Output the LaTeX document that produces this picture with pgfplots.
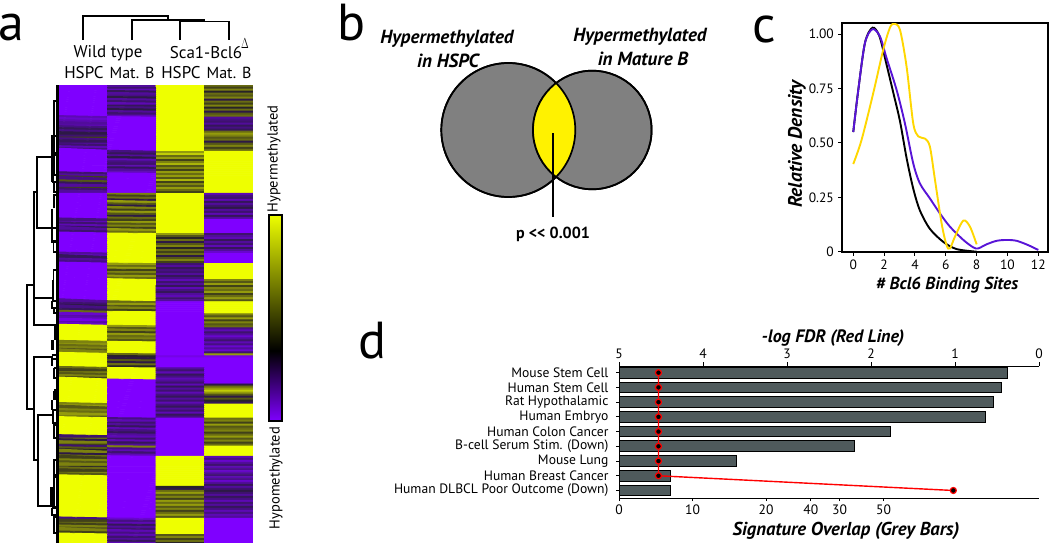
\documentclass[border=0pt]{standalone}
\usepackage{fontspec}
\setmainfont{PT Sans}
\usepackage{pgfplots}
\pgfplotsset{compat=1.18}
\definecolor{hmy}{RGB}{238,255,0}
\definecolor{hmp}{RGB}{127,0,255}
\definecolor{barg}{RGB}{79,90,92}
\definecolor{cpur}{RGB}{88,20,215}
\definecolor{cyel}{RGB}{255,215,0}
\newcommand{\fs}[1]{\fontsize{#1}{#1}\selectfont}
\begin{document}
\begin{tikzpicture}
\path[use as bounding box] (0,0) rectangle (1050pt,544pt);
% heat map
\begin{axis}[at={(59pt,1.5pt)},anchor=south west,scale only axis,width=194pt,height=457.5pt,hide axis,
 xmin=-0.5,xmax=3.5,ymin=-0.5,ymax=227.5,y dir=reverse,clip=true,
 colormap={hm}{rgb255(0pt)=(127,0,255) rgb255(5pt)=(70,15,130) rgb255(8pt)=(45,25,70) rgb255(9pt)=(40,35,40) rgb255(10pt)=(65,65,25) rgb255(13pt)=(125,130,15) rgb255(18pt)=(238,255,0)},
 point meta min=-9,point meta max=9]
\addplot[matrix plot*,mesh/cols=4,point meta=explicit,shader=faceted,faceted color=mapped color,line width=0.9pt] table[row sep=\\,header=false,x expr={mod(\coordindex,4)},y expr={floor(\coordindex/4)},meta index=0]{
-9\\-5\\9\\3\\
-9\\-3\\9\\1\\
-9\\-6\\9\\4\\
-9\\-2\\9\\0\\
-9\\-5\\9\\3\\
-9\\-4\\9\\2\\
-9\\-1\\9\\4\\
-9\\-5\\9\\-1\\
-9\\-3\\9\\3\\
-9\\-6\\9\\1\\
-9\\-2\\9\\4\\
-9\\-4\\9\\0\\
-9\\-1\\9\\3\\
-9\\-5\\9\\-1\\
-9\\-3\\9\\2\\
-9\\-6\\9\\3\\
-6\\-9\\9\\-5\\
-7\\-9\\9\\-4\\
-6\\-9\\9\\-3\\
-5\\-9\\9\\-5\\
-6\\-9\\9\\-2\\
-4\\-9\\9\\-4\\
-2\\-9\\9\\-2\\
-4\\-9\\9\\3\\
-1\\-9\\9\\5\\
-3\\-9\\9\\4\\
1\\-9\\9\\2\\
-4\\-9\\9\\3\\
-2\\-9\\9\\-1\\
-5\\-9\\9\\2\\
-3\\-9\\9\\4\\
-6\\-9\\9\\1\\
-4\\-9\\9\\3\\
-9\\-4\\5\\9\\
-9\\-2\\7\\9\\
-9\\-5\\3\\9\\
-9\\-1\\5\\9\\
-9\\-6\\1\\9\\
-9\\-4\\4\\9\\
-9\\-3\\6\\9\\
-9\\-6\\2\\9\\
-9\\-2\\4\\9\\
-9\\-5\\1\\9\\
-9\\-6\\5\\9\\
-3\\-9\\3\\9\\
-5\\-9\\5\\9\\
1\\-9\\2\\9\\
-4\\-9\\6\\9\\
2\\-9\\1\\9\\
-2\\-9\\4\\9\\
-5\\-9\\2\\9\\
1\\-9\\5\\9\\
-3\\-9\\3\\9\\
-5\\-9\\1\\9\\
-9\\4\\9\\-6\\
-9\\1\\9\\-4\\
-9\\3\\9\\-3\\
-9\\-1\\9\\-6\\
-9\\5\\9\\-2\\
-9\\2\\9\\-5\\
-9\\-1\\9\\-3\\
-9\\4\\9\\-1\\
-9\\1\\9\\-5\\
-9\\5\\9\\-3\\
-9\\2\\9\\-6\\
-9\\-1\\9\\-2\\
-9\\3\\9\\-5\\
-4\\1\\9\\-9\\
-6\\5\\9\\-9\\
-3\\2\\9\\-9\\
-6\\4\\9\\-9\\
-2\\1\\9\\-9\\
-5\\5\\9\\-9\\
-3\\3\\9\\-9\\
-9\\9\\5\\-3\\
-9\\9\\2\\-5\\
-9\\9\\0\\-6\\
-9\\9\\3\\-2\\
-9\\9\\-1\\-5\\
-9\\9\\2\\-3\\
-9\\9\\4\\-6\\
-9\\9\\0\\-2\\
-9\\9\\3\\-5\\
-9\\9\\1\\-7\\
-5\\9\\3\\-9\\
-6\\9\\-1\\-9\\
-2\\9\\2\\-9\\
-5\\9\\4\\-9\\
-4\\9\\1\\-9\\
-9\\5\\-3\\9\\
-9\\3\\-5\\9\\
-9\\5\\-2\\9\\
-9\\1\\-4\\9\\
-9\\4\\-3\\9\\
-9\\2\\-5\\9\\
-9\\5\\-2\\9\\
-9\\3\\-4\\9\\
-9\\9\\-6\\4\\
-9\\9\\-3\\2\\
-9\\9\\-5\\5\\
-9\\9\\-2\\1\\
-9\\9\\-6\\4\\
-9\\9\\-4\\3\\
-9\\9\\-2\\5\\
-9\\9\\-5\\1\\
-9\\9\\-6\\3\\
-9\\9\\-3\\5\\
-9\\9\\-5\\2\\
-5\\3\\-9\\9\\
-3\\5\\-9\\9\\
-1\\2\\-9\\9\\
-4\\4\\-9\\9\\
-2\\1\\-9\\9\\
3\\9\\-9\\9\\
-7\\9\\-9\\4\\
-5\\9\\-9\\2\\
-6\\9\\-9\\5\\
-8\\9\\-9\\1\\
-5\\9\\-9\\4\\
-7\\9\\-9\\2\\
9\\5\\-9\\3\\
9\\2\\-9\\-4\\
9\\4\\-9\\-6\\
9\\1\\-9\\-3\\
9\\5\\-9\\-5\\
9\\3\\-9\\-7\\
9\\4\\-9\\-5\\
9\\2\\-9\\-3\\
4\\9\\-9\\-6\\
5\\9\\-9\\-4\\
3\\9\\-9\\-7\\
4\\9\\-9\\-5\\
2\\9\\-9\\-7\\
4\\9\\-9\\-3\\
9\\3\\-9\\5\\
9\\0\\-8\\-8\\
9\\-1\\-9\\-9\\
9\\2\\-9\\-9\\
9\\-1\\-9\\-9\\
9\\3\\-9\\-9\\
9\\0\\-9\\-9\\
3\\9\\-5\\-9\\
1\\9\\-3\\-9\\
4\\9\\-6\\-9\\
2\\9\\-2\\-9\\
4\\9\\-4\\-9\\
1\\9\\-6\\-9\\
9\\-9\\-5\\-9\\
9\\-9\\-3\\-9\\
9\\-9\\-6\\-1\\
9\\-9\\-2\\3\\
9\\-9\\-5\\5\\
9\\-9\\-3\\7\\
9\\-9\\-6\\5\\
9\\-9\\-4\\2\\
9\\-9\\-2\\-1\\
9\\-9\\-5\\2\\
9\\-9\\-3\\0\\
9\\-9\\-6\\-2\\
4\\-9\\-4\\9\\
5\\-9\\-2\\9\\
2\\-9\\-5\\9\\
4\\-9\\-3\\9\\
3\\-9\\-6\\9\\
5\\-9\\-2\\9\\
2\\-9\\-4\\9\\
9\\-4\\-9\\3\\
9\\-6\\-9\\4\\
9\\-3\\-9\\1\\
9\\-5\\-9\\5\\
9\\-2\\-9\\2\\
9\\-6\\-9\\3\\
9\\-4\\-9\\4\\
9\\-2\\-9\\1\\
9\\-5\\-9\\3\\
-3\\-6\\-9\\5\\
3\\-3\\-9\\2\\
-1\\-6\\-9\\4\\
4\\-2\\-9\\1\\
1\\-5\\-9\\3\\
-3\\4\\-9\\9\\
2\\-4\\-9\\9\\
0\\-6\\-9\\9\\
4\\-3\\-9\\9\\
-1\\-6\\-9\\9\\
3\\-9\\9\\-6\\
1\\-9\\9\\-4\\
4\\-9\\9\\-7\\
2\\-9\\9\\-5\\
4\\-9\\9\\-3\\
0\\-9\\9\\-6\\
3\\-9\\9\\-4\\
1\\-9\\9\\-7\\
4\\-9\\9\\-5\\
2\\-9\\9\\-3\\
9\\-9\\9\\-6\\
9\\-9\\9\\-4\\
9\\-9\\9\\-7\\
9\\-9\\9\\-5\\
9\\-9\\9\\-2\\
9\\-9\\0\\-5\\
9\\-9\\-1\\-3\\
9\\-9\\3\\-1\\
9\\-9\\5\\-3\\
9\\-9\\2\\-5\\
9\\-9\\4\\-2\\
9\\-9\\1\\-4\\
9\\-9\\5\\-6\\
9\\-9\\3\\-3\\
9\\-9\\5\\-5\\
9\\-9\\2\\-2\\
9\\-9\\4\\-4\\
9\\-9\\1\\-6\\
9\\-9\\3\\-4\\
9\\-9\\5\\-6\\
9\\-9\\2\\-5\\
-4\\-7\\9\\-9\\
1\\-4\\9\\-9\\
3\\-6\\9\\-9\\
1\\-2\\9\\-9\\
4\\-5\\9\\-9\\
2\\-3\\9\\-9\\
4\\-6\\9\\-9\\
1\\-4\\9\\-9\\
9\\-6\\2\\-9\\
9\\-3\\4\\-9\\
9\\-5\\1\\-9\\
9\\-2\\3\\-9\\
9\\-6\\0\\-9\\
9\\-4\\3\\-9\\
9\\-6\\1\\-9\\
9\\-4\\-1\\-9\\
};
\end{axis}
% panel c
\begin{axis}[at={(842.3pt,292.3pt)},anchor=south west,scale only axis,width=205.4pt,height=228.4pt,
 xmin=-0.71,xmax=12.61,ymin=0,ymax=1.05,
 xtick={0,2,4,6,8,10,12},ytick={0,0.25,0.5,0.75,1},yticklabels={0,0.25,0.50,0.75,1.00},
 tick align=outside,major tick length=4pt,tick style={black,line width=1pt},xtick pos=bottom,ytick pos=left,
 axis line style={line width=2pt},
 tick label style={font=\fs{13.5}},
 /pgf/number format/assume math mode=true,
 xticklabel style={yshift=-1pt},yticklabel style={xshift=-1pt}]
\addplot[black,line width=1.9pt,smooth] coordinates {(0,.55)(.32,.74)(.76,.96)(1.25,1.03)(1.7,.99)(2.16,.86)(2.6,.73)(3.03,.60)(3.46,.43)(3.89,.29)(4.32,.19)(4.97,.105)(5.84,.045)(6.7,.012)(8,0)};
\addplot[cpur,line width=1.9pt,smooth] coordinates {(0,.55)(.32,.74)(.76,.96)(1.25,1.023)(1.73,.99)(2.16,.89)(2.81,.744)(3.35,.59)(3.89,.406)(4.32,.314)(4.97,.245)(5.62,.176)(6.27,.115)(7.14,.054)(7.78,.02)(8.1,.015)(8.65,.034)(9.3,.05)(9.95,.054)(10.6,.05)(11.35,.03)(12,.008)};
\addplot[cyel,line width=1.9pt,smooth] coordinates {(0,.403)(.54,.514)(1.3,.73)(1.95,.93)(2.38,1.03)(2.66,1.048)(3.03,1.02)(3.46,.85)(3.89,.59)(4.22,.53)(4.65,.52)(4.97,.483)(5.3,.33)(5.73,.13)(6.05,.03)(6.27,.015)(6.6,.07)(7.14,.143)(7.57,.115)(8,.034)};
\end{axis}
% panel d bars
\begin{axis}[at={(619pt,46pt)},anchor=south west,scale only axis,width=420pt,height=131.5pt,
 xmin=0,xmax=57.14,ymin=-8.51,ymax=0.42,
 axis x line*=bottom,axis y line*=left,axis line style={-,line width=1pt},
 xtick={0,10,20,26.1,30,36},xticklabels={0,10,20,40,30,50},
 ytick={0,-1,-2,-3,-4,-5,-6,-7,-8},
 yticklabels={Mouse Stem Cell,Human Stem Cell,Rat Hypothalamic,Human Embryo,Human Colon Cancer,B-cell Serum Stim. (Down),Mouse Lung,Human Breast Cancer,Human DLBCL Poor Outcome (Down)},
 tick align=outside,major tick length=3pt,tick style={black,line width=1pt},
 tick label style={font=\fs{13.6}},
 /pgf/number format/assume math mode=true,
 yticklabel style={xshift=-4pt}]
\addplot[xbar,bar width=10.7pt,fill=barg,draw=black,line width=1pt] coordinates {(52.9,0)(52,-1)(51,-2)(49.9,-3)(36.9,-4)(32,-5)(16,-6)(7,-7)(7,-8)};
\end{axis}
% panel d red line
\begin{axis}[at={(619pt,46pt)},anchor=south west,scale only axis,width=420pt,height=131.5pt,
 xmin=0,xmax=5,x dir=reverse,ymin=-8.51,ymax=0.42,
 axis x line*=top,axis y line=none,axis line style={-,line width=1.8pt},
 xtick={0,1,2,3,4,5},tick align=outside,major tick length=4pt,tick style={black,line width=1pt},
 tick label style={font=\fs{13.6}},
 /pgf/number format/assume math mode=true,clip=false]
\addplot[red,line width=1.4pt,mark=*,mark size=3pt,mark options={fill=black,draw=red,line width=1.2pt}] coordinates {(4.53,0)(4.53,-1)(4.53,-2)(4.53,-3)(4.53,-4)(4.53,-5)(4.53,-6)(4.53,-7)(1.02,-8)};
\end{axis}
% venn
\begin{scope}[x=1pt,y=-1pt,yshift=544pt]
\draw[line width=1.7pt,fill=gray] (508.3,130) circle[radius=67];
\draw[line width=1.7pt,fill=gray] (592.3,130) circle[radius=59.3];
\begin{scope}
\clip (508.3,130) circle[radius=67];
\fill[yellow] (592.3,130) circle[radius=59.3];
\end{scope}
\draw[line width=1.7pt] (508.3,130) circle[radius=67];
\draw[line width=1.7pt] (592.3,130) circle[radius=59.3];
\fill[top color=hmy,bottom color=black,shading angle=0] (268.5,215) rectangle (282,351);
\fill[top color=black,bottom color=hmp,shading angle=0] (268.5,351) rectangle (282,421);
\draw[line width=2pt] (268.5,215) rectangle (282,421);
\end{scope}
% overlay
\begin{axis}[at={(0pt,0pt)},anchor=south west,scale only axis,width=1050pt,height=544pt,hide axis,
 xmin=0,xmax=1050,ymin=0,ymax=544,y dir=reverse,clip=false]
\addplot[black,line width=1.8pt] coordinates {(553.3,133.3)(553.3,216.7)};
% top dendrogram
\addplot[black,line width=1.7pt] coordinates {(83,40)(83,16)(168,16)(168,19)};
\addplot[black,line width=1.7pt] coordinates {(132,40)(132,20)(205,20)};
\addplot[black,line width=1.7pt] coordinates {(180,40)(180,21.5)(229,21.5)(229,40)};
% left dendrogram
\addplot[black,line width=3pt] coordinates {(58,85)(58,543)};
\addplot[black,line width=1.6pt] coordinates {(52,157)(37,157)(37,228)(52,228)};
\addplot[black,line width=1.6pt] coordinates {(37,192)(34,192)(34,325)(56,325)};
\addplot[black,line width=1.6pt] coordinates {(34,298)(52,298)};
\addplot[black,line width=1.6pt] coordinates {(34,285)(27,285)(27,409)(34,409)};
\addplot[black,line width=1.6pt] coordinates {(53,357)(34,357)(34,460)(38,460)};
\addplot[black,line width=1.6pt] coordinates {(52,415)(38,415)(38,506)(52,506)};
\addplot[black,line width=1.4pt] coordinates {(57,101)(54,101)(54,135)};
\addplot[black,line width=2.6pt] coordinates {(52.5,135)(52.5,182)};
\addplot[black,line width=1.4pt] coordinates {(57,136)(54.5,136)(54.5,153)(57,153)};
\addplot[black,line width=1.4pt] coordinates {(57,155)(54.5,155)(54.5,175)(57,175)};
\addplot[black,line width=1.4pt] coordinates {(52,182)(57,182)(57,192)(54,192)(54,182)};
\addplot[black,line width=1.4pt] coordinates {(57,195)(54,195)(54,208)};
\addplot[black,line width=2.4pt] coordinates {(52,209)(52,228)};
\addplot[black,line width=1.4pt] coordinates {(57,228)(52,228)(52,242)(57,242)};
\addplot[black,line width=1.4pt] coordinates {(57,241)(53.5,241)(53.5,252)(57,252)};
\addplot[black,line width=1.4pt] coordinates {(57,270)(53.5,270)(53.5,290)};
\addplot[black,line width=2.4pt] coordinates {(53,280)(53,300)};
\addplot[black,line width=1.4pt] coordinates {(52,301)(57,301)(57,308)(52,308)(52,301)};
\addplot[black,line width=1.4pt] coordinates {(54,308)(54,313)(57,313)};
\addplot[black,line width=1.4pt] coordinates {(57,327)(55,327)(55,340)};
\addplot[black,line width=2.4pt] coordinates {(52.5,340)(52.5,350)};
\addplot[black,line width=1.4pt] coordinates {(52,355)(57,355)(57,359)(52,359)(52,366)};
\addplot[black,line width=1.4pt] coordinates {(54,368)(57,368)(57,378)(54,378)(54,368)};
\addplot[black,line width=1.4pt] coordinates {(57,390)(55,390)(55,400)};
\addplot[black,line width=1.4pt] coordinates {(57,392)(54,392)(54,400)};
\addplot[black,line width=2.6pt] coordinates {(52,400)(52,410)};
\addplot[black,line width=1.4pt] coordinates {(53,410)(57,410)(57,423)(53,423)(53,410)};
\addplot[black,line width=1.4pt] coordinates {(57,425)(54,425)(54,438)(57,438)};
\addplot[black,line width=1.4pt] coordinates {(57,460)(54,460)(54,475)(57,475)};
\addplot[black,line width=2.6pt] coordinates {(51.5,487)(51.5,507)};
\addplot[black,line width=1.4pt] coordinates {(57,477)(54,477)(54,507)(57,507)};
\addplot[black,line width=1.4pt] coordinates {(52,508)(57,508)(57,515)(52,515)(52,508)};
\addplot[black,line width=1.4pt] coordinates {(57,517)(54,517)(54,533)(57,533)};
% text
\node[anchor=base,font=\fs{52}] at (axis cs:11,40) {a};
\node[anchor=base,font=\fs{52}] at (axis cs:352,40) {b};
\node[anchor=base,font=\fs{52}] at (axis cs:764,42) {c};
\node[anchor=base,font=\fs{52}] at (axis cs:372,358) {d};
\node[font=\fs{17}] at (axis cs:108,53) {Wild type};
\node[font=\fs{17}] at (axis cs:206,53) {Sca1-Bcl6};
\node[font=\fs{14},xscale=0.65] at (axis cs:245,44) {$\Delta$};
\node[font=\fs{17}] at (axis cs:84,73) {HSPC};
\node[font=\fs{16}] at (axis cs:132,73) {Mat. B};
\node[font=\fs{17}] at (axis cs:181,73) {HSPC};
\node[font=\fs{16}] at (axis cs:229,73) {Mat. B};
\node[rotate=90,font=\fs{14.5}] at (axis cs:274,159) {Hypermethylated};
\node[rotate=90,font=\fs{14.5}] at (axis cs:276,478) {Hypomethylated};
\node[font=\fs{19}\bfseries\itshape] at (axis cs:447,39) {Hypermethylated};
\node[font=\fs{19}\bfseries\itshape] at (axis cs:448,61) {in HSPC};
\node[font=\fs{19}\bfseries\itshape] at (axis cs:640,37) {Hypermethylated};
\node[font=\fs{19}\bfseries\itshape] at (axis cs:643,59) {in Mature B};
\node[font=\fs{16}\bfseries] at (axis cs:553,234) {p <{}< 0.001};
\node[rotate=90,font=\fs{19.5}\bfseries\itshape] at (axis cs:797,144) {Relative Density};
\node[font=\fs{17.4}\bfseries\itshape] at (axis cs:947,285) {\# Bcl6 Binding Sites};
\node[font=\fs{18}\bfseries\itshape] at (axis cs:833,338) {-log FDR (Red Line)};
\node[font=\fs{18.7}\bfseries\itshape] at (axis cs:846,531) {Signature Overlap (Grey Bars)};
\end{axis}
\end{tikzpicture}
\end{document}
